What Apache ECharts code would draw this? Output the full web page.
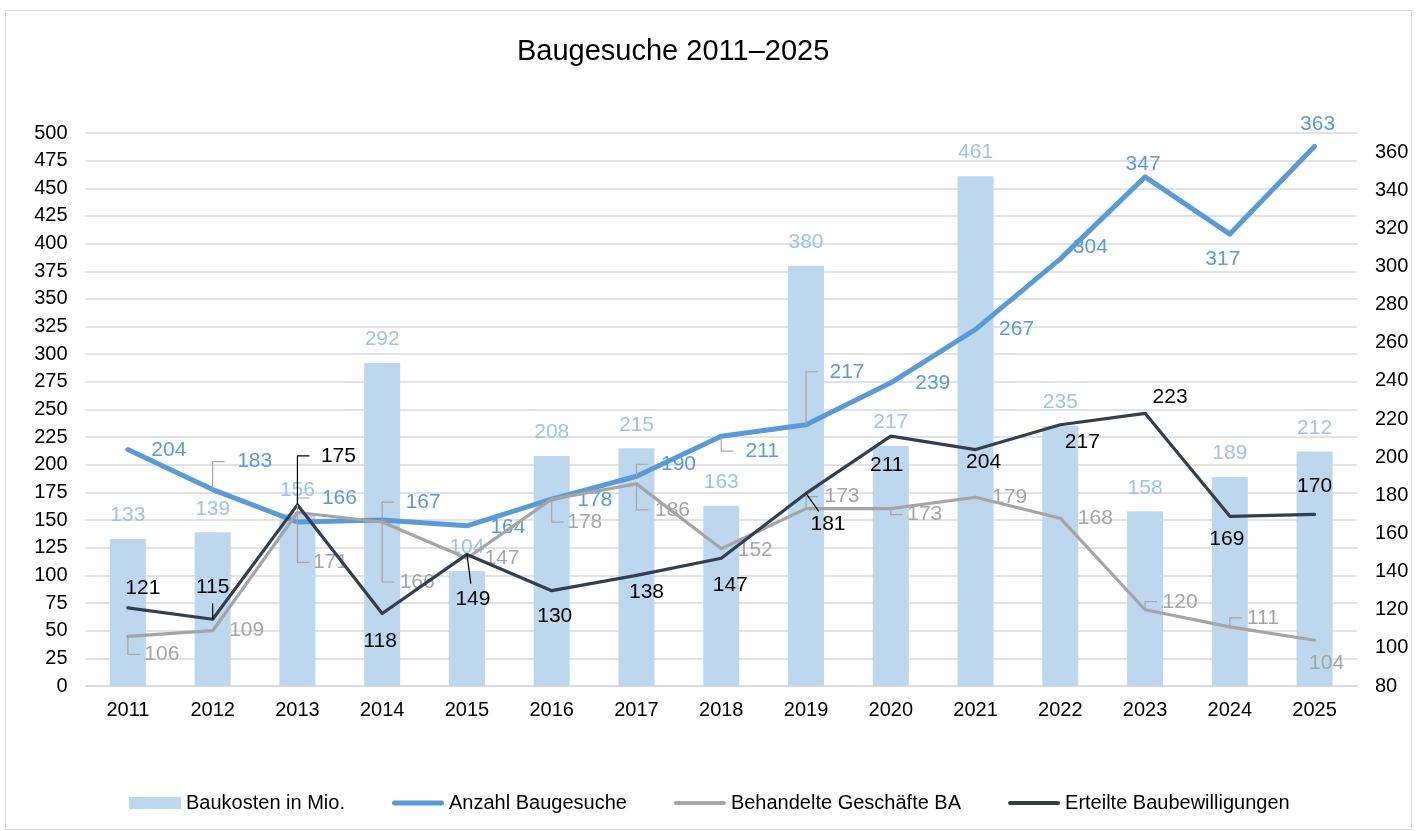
<!DOCTYPE html>
<html>
<head>
<meta charset="utf-8">
<script src="https://cdn.jsdelivr.net/npm/echarts@6/dist/echarts.min.js"></script>
<style>
html,body{margin:0;padding:0;background:#fff;}
#chart{width:1417px;height:831px;}
</style>
</head>
<body>
<div id="chart"></div>
<script>
// ---------- data ----------
const years = ['2011','2012','2013','2014','2015','2016','2017','2018','2019','2020','2021','2022','2023','2024','2025'];
const baukosten = [133,139,156,292,104,208,215,163,380,217,461,235,158,189,212];
const anzahlBaugesuche = [204,183,166,167,164,178,190,211,217,239,267,304,347,317,363];
const behandelteGeschaefte = [106,109,171,166,147,178,186,152,173,173,179,168,120,111,104];
const erteilteBewilligungen = [121,115,175,118,149,130,138,147,181,211,204,217,223,169,170];

const leftAxisTicks = { min: 0, max: 500, interval: 25 };
const rightAxisTicks = { min: 80, max: 370, interval: 20 };

const seriesNames = ['Baukosten in Mio.', 'Anzahl Baugesuche', 'Behandelte Geschäfte BA', 'Erteilte Baubewilligungen'];

// ---------- label placement (styling, pixel offsets from the point) ----------
const anzahlLabelPos = [[41,1],[42,-28],[42,-24],[41,-18],[41,1],[43,1],[42,-12],[41,15],[41,-53],[42,0],[41,0],[30,-12],[-2,-13],[-7,25],[3,-22]];
const anzahlLeader   = [0,1,1,1,0,0,1,1,1,0,0,0,0,0,0];
const behandelteLabelPos = [[34,18],[34,0],[33,50],[35,60],[35,0],[33,23],[36,26],[34,1],[36,-12],[34,6],[34,0],[35,0],[35,-8],[33,-9],[12,23]];
const behandelteLeader   = [1,0,1,1,0,1,1,0,1,1,0,0,1,1,0];
const erteilteLabelPos = [[15,-20],[0,-32],[41,-49],[-2,28],[6,45],[3,26],[10,17],[9,27],[22,31],[-4,29],[8,13],[22,17],[25,-16],[-3,23],[0,-28]];
const erteilteLeader   = [0,2,1,0,2,0,0,0,2,0,0,0,0,0,0];

// ---------- colours ----------
const C_BAR = '#BDD7EE', C_BAR_LABEL = '#9DC3E6';
const C_BLUE = '#5B9BD5', C_GRAY = '#A5A5A5', C_DARK = '#333F50';
const C_GRID = '#D9D9D9';
const FONT = "'Liberation Sans', Arial, sans-serif";
const LABEL_SIZE = 21;

function lineData(values, pos) {
  return values.map((v, i) => ({ value: v, label: { offset: pos[i] } }));
}
const leaderColors = ['#A6A6A6', '#A6A6A6', '#000000'];
const leaderData = [];
[[anzahlBaugesuche, anzahlLabelPos, anzahlLeader, 0],
 [behandelteGeschaefte, behandelteLabelPos, behandelteLeader, 1],
 [erteilteBewilligungen, erteilteLabelPos, erteilteLeader, 2]].forEach(([vals, pos, kinds, ci]) => {
  vals.forEach((v, i) => {
    if (kinds[i]) leaderData.push([i, v, pos[i][0], pos[i][1], kinds[i], ci]);
  });
});

const chart = echarts.init(document.getElementById('chart'), null, { renderer: 'canvas' });

const lineLabel = (color) => ({
  show: true, position: 'inside', color: color, fontSize: LABEL_SIZE, fontFamily: FONT
});

chart.setOption({
  animation: false,
  backgroundColor: '#fff',
  textStyle: { fontFamily: FONT },
  graphic: [{
    type: 'rect', silent: true, z: -10,
    shape: { x: 5.5, y: 10.5, width: 1406, height: 819 },
    style: { fill: '#fff', stroke: C_GRID, lineWidth: 1 }
  }],
  title: {
    text: 'Baugesuche 2011–2025',
    left: 512, top: 32,
    textStyle: { fontSize: 29, fontWeight: 'normal', color: '#000', fontFamily: FONT }
  },
  legend: {
    left: 124, top: 788,
    itemWidth: 52, itemHeight: 12, itemGap: 47,
    textStyle: { fontSize: 20, color: '#000', fontFamily: FONT },
    data: [
      { name: seriesNames[0], icon: 'rect' },
      { name: seriesNames[1], icon: 'path://M2.5,0H49.5A2.5,2.5,0,0,1,49.5,5H2.5A2.5,2.5,0,0,1,2.5,0Z' },
      { name: seriesNames[2], icon: 'path://M2,0H50A2,2,0,0,1,50,4H2A2,2,0,0,1,2,0Z' },
      { name: seriesNames[3], icon: 'path://M2,0H50A2,2,0,0,1,50,4H2A2,2,0,0,1,2,0Z' }
    ]
  },
  grid: { left: 85.5, right: 60, top: 133, bottom: 145, containLabel: false },
  xAxis: {
    type: 'category', data: years, boundaryGap: true,
    axisLine: { show: true, lineStyle: { color: C_GRID, width: 1.5 } },
    axisTick: { show: false },
    axisLabel: { color: '#000', fontSize: 20, fontFamily: FONT, margin: 14, interval: 0 },
    splitLine: { show: false }
  },
  yAxis: [{
    type: 'value', min: leftAxisTicks.min, max: leftAxisTicks.max, interval: leftAxisTicks.interval,
    axisLine: { show: false }, axisTick: { show: false },
    axisLabel: { color: '#000', fontSize: 20, fontFamily: FONT, margin: 18 },
    splitLine: { show: true, lineStyle: { color: C_GRID, width: 1.5 } }
  }, {
    type: 'value', min: rightAxisTicks.min, max: rightAxisTicks.max, interval: rightAxisTicks.interval,
    axisLine: { show: false }, axisTick: { show: false },
    axisLabel: { color: '#000', fontSize: 20, fontFamily: FONT, margin: 18, showMaxLabel: false },
    splitLine: { show: false }
  }],
  series: [{
    name: seriesNames[0], type: 'bar', yAxisIndex: 0, data: baukosten,
    barWidth: 36,
    itemStyle: { color: C_BAR },
    label: { show: true, position: 'top', distance: 13, color: C_BAR_LABEL, fontSize: LABEL_SIZE, fontFamily: FONT }
  }, {
    name: seriesNames[1], type: 'line', yAxisIndex: 1, data: lineData(anzahlBaugesuche, anzahlLabelPos),
    symbol: 'circle', symbolSize: 2, showSymbol: true,
    itemStyle: { color: C_BLUE },
    lineStyle: { color: C_BLUE, width: 5, cap: 'round', join: 'round' },
    label: lineLabel(C_BLUE), z: 3
  }, {
    name: seriesNames[2], type: 'line', yAxisIndex: 1, data: lineData(behandelteGeschaefte, behandelteLabelPos),
    symbol: 'circle', symbolSize: 2, showSymbol: true,
    itemStyle: { color: C_GRAY },
    lineStyle: { color: C_GRAY, width: 3.2, cap: 'round', join: 'round' },
    label: lineLabel(C_GRAY), z: 4
  }, {
    name: seriesNames[3], type: 'line', yAxisIndex: 1, data: lineData(erteilteBewilligungen, erteilteLabelPos),
    symbol: 'circle', symbolSize: 2, showSymbol: true,
    itemStyle: { color: C_DARK },
    lineStyle: { color: C_DARK, width: 3.2, cap: 'round', join: 'round' },
    label: lineLabel('#000'), z: 5
  }, {
    type: 'custom', yAxisIndex: 1, silent: true, z: 6,
    data: leaderData,
    renderItem: function (params, api) {
      const pt = api.coord([api.value(0), api.value(1)]);
      const dx = api.value(2), dy = api.value(3), kind = api.value(4);
      const color = leaderColors[api.value(5)];
      let points;
      if (kind === 1) {
        const hx = pt[0] + Math.min(12, Math.abs(dx) - 20) * Math.sign(dx);
        points = [pt, [pt[0], pt[1] + dy], [hx, pt[1] + dy]];
      } else {
        const len = Math.hypot(dx, dy);
        points = [pt, [pt[0] + dx - dx / len * 16, pt[1] + dy - dy / len * 16]];
      }
      return { type: 'polyline', shape: { points: points }, style: { stroke: color, lineWidth: 1.2, fill: null } };
    }
  }]
});
</script>
</body>
</html>
